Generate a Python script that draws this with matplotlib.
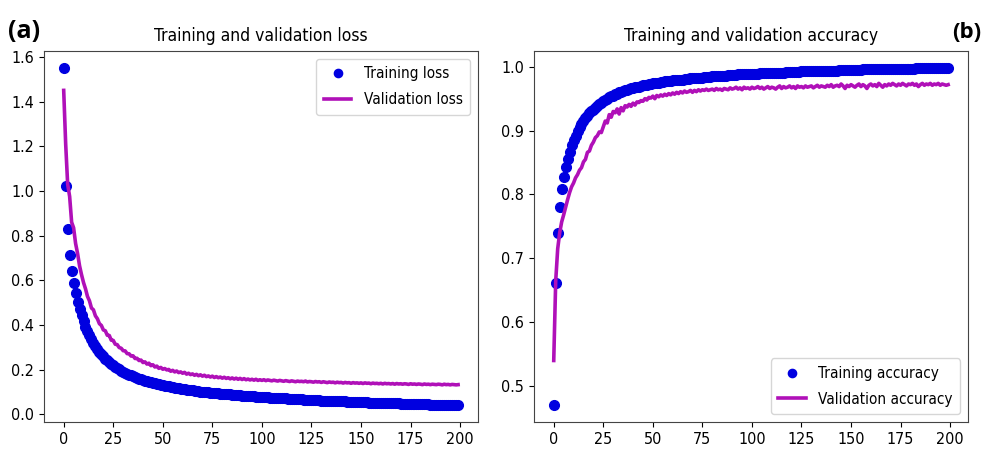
#!/usr/bin/env python3
# Training / validation loss and accuracy curves, two panels (a) and (b)

import matplotlib
matplotlib.use("Agg")
import matplotlib.pyplot as plt

plt.rcParams["font.family"] = ["DejaVu Sans"]
plt.rcParams["font.stretch"] = "condensed"

train_loss = [
    1.55, 1.02, 0.83, 0.715, 0.64, 0.59, 0.545, 0.505, 0.472, 0.443,
    0.417, 0.393, 0.372, 0.353, 0.336, 0.320, 0.306, 0.293, 0.281, 0.270,
    0.260, 0.250, 0.242, 0.234, 0.226, 0.219, 0.213, 0.207, 0.201, 0.196,
    0.191, 0.186, 0.182, 0.178, 0.174, 0.170, 0.166, 0.163, 0.160, 0.157,
    0.154, 0.151, 0.148, 0.146, 0.143, 0.141, 0.139, 0.136, 0.134, 0.132,
    0.130, 0.128, 0.126, 0.125, 0.123, 0.121, 0.120, 0.118, 0.117, 0.115,
    0.114, 0.112, 0.111, 0.110, 0.108, 0.107, 0.106, 0.105, 0.104, 0.102,
    0.101, 0.100, 0.099, 0.098, 0.097, 0.096, 0.095, 0.094, 0.094, 0.093,
    0.092, 0.091, 0.090, 0.089, 0.089, 0.088, 0.087, 0.086, 0.086, 0.085,
    0.084, 0.083, 0.083, 0.082, 0.081, 0.081, 0.080, 0.079, 0.079, 0.078,
    0.077, 0.077, 0.076, 0.076, 0.075, 0.074, 0.074, 0.073, 0.073, 0.072,
    0.072, 0.071, 0.071, 0.070, 0.070, 0.069, 0.069, 0.068, 0.068, 0.067,
    0.067, 0.066, 0.066, 0.065, 0.065, 0.064, 0.064, 0.064, 0.063, 0.063,
    0.062, 0.062, 0.061, 0.061, 0.061, 0.060, 0.060, 0.059, 0.059, 0.059,
    0.058, 0.058, 0.058, 0.057, 0.057, 0.056, 0.056, 0.056, 0.055, 0.055,
    0.055, 0.054, 0.054, 0.054, 0.053, 0.053, 0.053, 0.052, 0.052, 0.052,
    0.051, 0.051, 0.051, 0.050, 0.050, 0.050, 0.050, 0.049, 0.049, 0.049,
    0.048, 0.048, 0.048, 0.048, 0.047, 0.047, 0.047, 0.046, 0.046, 0.046,
    0.046, 0.045, 0.045, 0.045, 0.045, 0.044, 0.044, 0.044, 0.044, 0.043,
    0.043, 0.043, 0.043, 0.043, 0.042, 0.042, 0.042, 0.042, 0.041, 0.041,
]

val_loss = [
    1.45, 1.21, 1.03, 0.975, 0.86, 0.835, 0.765, 0.72, 0.665, 0.625,
    0.59, 0.562, 0.528, 0.508, 0.476, 0.468, 0.441, 0.428, 0.406, 0.398,
    0.378, 0.374, 0.354, 0.353, 0.332, 0.331, 0.314, 0.312, 0.299, 0.296,
    0.285, 0.284, 0.272, 0.271, 0.261, 0.262, 0.250, 0.251, 0.241, 0.243,
    0.232, 0.235, 0.225, 0.229, 0.218, 0.222, 0.212, 0.216, 0.206, 0.210,
    0.202, 0.205, 0.199, 0.201, 0.193, 0.197, 0.190, 0.194, 0.187, 0.190,
    0.184, 0.188, 0.180, 0.184, 0.178, 0.181, 0.175, 0.179, 0.173, 0.177,
    0.171, 0.175, 0.169, 0.172, 0.167, 0.171, 0.165, 0.169, 0.164, 0.167,
    0.162, 0.166, 0.161, 0.164, 0.159, 0.163, 0.158, 0.162, 0.157, 0.161,
    0.156, 0.160, 0.155, 0.158, 0.154, 0.157, 0.153, 0.157, 0.152, 0.155,
    0.152, 0.155, 0.151, 0.154, 0.152, 0.150, 0.153, 0.151, 0.149, 0.152,
    0.150, 0.148, 0.151, 0.149, 0.147, 0.150, 0.148, 0.146, 0.149, 0.147,
    0.148, 0.146, 0.149, 0.145, 0.147, 0.146, 0.144, 0.147, 0.145, 0.146,
    0.143, 0.146, 0.144, 0.142, 0.145, 0.143, 0.144, 0.141, 0.144, 0.142,
    0.143, 0.140, 0.143, 0.141, 0.142, 0.139, 0.142, 0.140, 0.141, 0.139,
    0.141, 0.138, 0.141, 0.139, 0.140, 0.137, 0.140, 0.138, 0.139, 0.137,
    0.139, 0.136, 0.139, 0.137, 0.138, 0.136, 0.138, 0.135, 0.138, 0.136,
    0.137, 0.135, 0.137, 0.136, 0.134, 0.137, 0.135, 0.136, 0.134, 0.136,
    0.135, 0.133, 0.136, 0.134, 0.135, 0.133, 0.135, 0.134, 0.133, 0.135,
    0.134, 0.132, 0.135, 0.133, 0.134, 0.132, 0.134, 0.133, 0.132, 0.133,
]

train_acc = [
    0.470, 0.662, 0.739, 0.781, 0.808, 0.828, 0.843, 0.856, 0.867, 0.877,
    0.885, 0.892, 0.899, 0.905, 0.910, 0.915, 0.919, 0.923, 0.927, 0.930,
    0.933, 0.936, 0.939, 0.941, 0.944, 0.946, 0.948, 0.950, 0.952, 0.954,
    0.955, 0.957, 0.958, 0.960, 0.961, 0.962, 0.963, 0.964, 0.965, 0.966,
    0.967, 0.968, 0.969, 0.969, 0.970, 0.971, 0.971, 0.972, 0.973, 0.973,
    0.974, 0.974, 0.975, 0.975, 0.976, 0.976, 0.977, 0.977, 0.978, 0.978,
    0.979, 0.979, 0.979, 0.980, 0.980, 0.980, 0.981, 0.981, 0.981, 0.982,
    0.982, 0.982, 0.983, 0.983, 0.983, 0.983, 0.984, 0.984, 0.984, 0.984,
    0.985, 0.985, 0.985, 0.985, 0.986, 0.986, 0.986, 0.986, 0.987, 0.987,
    0.987, 0.987, 0.987, 0.988, 0.988, 0.988, 0.988, 0.988, 0.989, 0.989,
    0.989, 0.989, 0.989, 0.989, 0.990, 0.990, 0.990, 0.990, 0.990, 0.990,
    0.991, 0.991, 0.991, 0.991, 0.991, 0.991, 0.991, 0.992, 0.992, 0.992,
    0.992, 0.992, 0.992, 0.992, 0.992, 0.993, 0.993, 0.993, 0.993, 0.993,
    0.993, 0.993, 0.993, 0.993, 0.994, 0.994, 0.994, 0.994, 0.994, 0.994,
    0.994, 0.994, 0.994, 0.994, 0.995, 0.995, 0.995, 0.995, 0.995, 0.995,
    0.995, 0.995, 0.995, 0.995, 0.995, 0.995, 0.996, 0.996, 0.996, 0.996,
    0.996, 0.996, 0.996, 0.996, 0.996, 0.996, 0.996, 0.996, 0.996, 0.997,
    0.997, 0.997, 0.997, 0.997, 0.997, 0.997, 0.997, 0.997, 0.997, 0.997,
    0.997, 0.997, 0.997, 0.998, 0.998, 0.998, 0.998, 0.998, 0.998, 0.998,
    0.998, 0.998, 0.998, 0.998, 0.998, 0.998, 0.998, 0.998, 0.998, 0.998,
]

val_acc = [
    0.540, 0.665, 0.715, 0.740, 0.757, 0.768, 0.780, 0.792, 0.803, 0.812,
    0.818, 0.826, 0.831, 0.838, 0.842, 0.851, 0.855, 0.866, 0.868, 0.877,
    0.882, 0.889, 0.892, 0.898, 0.897, 0.906, 0.915, 0.912, 0.925, 0.921,
    0.930, 0.928, 0.934, 0.926, 0.936, 0.931, 0.939, 0.937, 0.941, 0.938,
    0.943, 0.940, 0.945, 0.944, 0.947, 0.946, 0.950, 0.948, 0.952, 0.951,
    0.954, 0.950, 0.955, 0.953, 0.956, 0.954, 0.957, 0.955, 0.958, 0.956,
    0.959, 0.957, 0.960, 0.958, 0.961, 0.959, 0.962, 0.960, 0.961, 0.963,
    0.960, 0.963, 0.961, 0.964, 0.962, 0.964, 0.963, 0.965, 0.963, 0.964,
    0.965, 0.963, 0.966, 0.964, 0.965, 0.963, 0.966, 0.965, 0.964, 0.967,
    0.965, 0.966, 0.968, 0.965, 0.967, 0.964, 0.968, 0.966, 0.967, 0.965,
    0.968, 0.966, 0.967, 0.969, 0.966, 0.968, 0.965, 0.967, 0.969, 0.966,
    0.968, 0.967, 0.965, 0.968, 0.970, 0.966, 0.969, 0.967, 0.968, 0.970,
    0.967, 0.969, 0.966, 0.970, 0.968, 0.969, 0.967, 0.970, 0.968, 0.969,
    0.970, 0.967, 0.969, 0.971, 0.968, 0.970, 0.969, 0.968, 0.971, 0.969,
    0.972, 0.968, 0.970, 0.971, 0.969, 0.973, 0.970, 0.966, 0.971, 0.969,
    0.972, 0.970, 0.968, 0.971, 0.973, 0.969, 0.972, 0.970, 0.966, 0.971,
    0.973, 0.970, 0.972, 0.969, 0.974, 0.971, 0.968, 0.972, 0.970, 0.973,
    0.971, 0.974, 0.972, 0.970, 0.973, 0.971, 0.974, 0.972, 0.970, 0.973,
    0.972, 0.974, 0.971, 0.973, 0.969, 0.972, 0.974, 0.971, 0.973, 0.972,
    0.974, 0.971, 0.973, 0.972, 0.974, 0.971, 0.973, 0.972, 0.971, 0.972,
]

epochs = list(range(len(train_loss)))
xticks = [0, 25, 50, 75, 100, 125, 150, 175, 200]

fig = plt.figure(figsize=(9.86, 4.49), dpi=100)
ax1 = fig.add_axes([0.0446, 0.060, 0.440, 0.826])
ax2 = fig.add_axes([0.5416, 0.060, 0.440, 0.826])

ax1.plot(epochs, train_loss, "o", color="#0000e0", markersize=7, label="Training loss")
ax1.plot(epochs, val_loss, "-", color="#b010b8", linewidth=2.6, label="Validation loss")
ax1.set_title("Training and validation loss", fontsize=12.5, pad=7)
ax1.legend(loc="upper right", fontsize=11, labelspacing=0.7, borderpad=0.5,
           handlelength=1.8, markerscale=0.85)

ax2.plot(epochs, train_acc, "o", color="#0000e0", markersize=7, label="Training accuracy")
ax2.plot(epochs, val_acc, "-", color="#b010b8", linewidth=2.6, label="Validation accuracy")
ax2.set_title("Training and validation accuracy", fontsize=12.5, pad=7)
ax2.legend(loc="lower right", fontsize=11, labelspacing=0.7, borderpad=0.5,
           handlelength=1.8, markerscale=0.85)

for ax in (ax1, ax2):
    ax.set_xticks(xticks)
    ax.tick_params(labelsize=11.5)
    for s in ax.spines.values():
        s.set_color("#444444")

fig.text(0.008, 0.915, "(a)", fontsize=18, fontweight="bold",
         family=["Open Sans", "DejaVu Sans"], stretch="condensed")
fig.text(0.966, 0.915, "(b)", fontsize=16, fontweight="bold",
         family=["Open Sans", "DejaVu Sans"], stretch="condensed")

plt.savefig("out.png", dpi=100)
print("saved out.png")
